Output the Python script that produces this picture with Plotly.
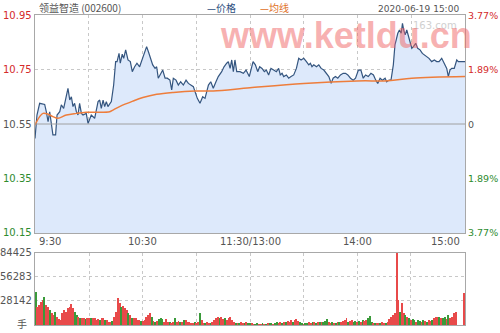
import plotly.graph_objects as go

# ---------------- data ----------------
price_t = [0,1.1,2.6,5.4,6.3,7.3,8.2,9.1,10,11.5,12.3,13.8,14.7,16,17.5,18.4,19.4,20.3,21.2,22.1,23.1,24,24.9,25.9,26.8,28.6,29.6,31.4,33.3,35.2,36.1,37,38,38.9,39.8,40.7,42.6,43.9,45,45.8,46.9,47.6,48.7,49.5,50.6,51.9,53.2,54.3,55.6,56.9,58.4,
           60.5,62.3,63.3,64.6,65.7,67,67.9,68.8,70.1,71.3,72.6,73.8,75.3,76.3,77.2,78.7,80,81.3,82.8,84.3,85.6,86.9,88.4,89.3,90.6,92.1,93.6,94.9,96.8,98.1,99.5,101,102.3,104.2,105.5,107,107.9,108.9,109.8,110.7,111.6,112.6,114.4,116.3,117.8,119.6,
           120.2,121.7,123,124.3,125.4,126.7,128,129.1,130.4,131.7,133.2,134.7,136,136.9,137.9,138.8,140.3,141.6,142.9,144.4,145.9,147.2,148.5,150,151.5,152.8,153.7,154.6,155.6,157.1,158.4,159.7,161.2,162.7,164,165.3,166.4,167.7,169,170.5,172,173.3,174.6,176.1,177.6,178.9,
           180.5,181.9,183.2,184.5,186,187.5,188.9,190.2,191.3,192.6,193.9,195.4,196.3,197.6,198.7,200,200.9,202.5,203.4,204.4,205.1,205.8,206.6,207.5,208.5,209.4,210.3,211.2,212.5,213.6,214.9,216.2,217.3,218.6,219.9,221.4,222.9,224.2,225.5,227,228.5,229.8,230.7,231.6,232.6,234,235.4,236.3,237.8,240]
price_v = [10.497,10.583,10.626,10.622,10.595,10.559,10.595,10.559,10.510,10.510,10.583,10.595,10.620,10.607,10.656,10.681,10.638,10.650,10.614,10.626,10.595,10.583,10.626,10.589,10.583,10.589,10.552,10.583,10.571,10.632,10.638,10.607,10.638,10.614,10.632,10.614,10.632,10.693,10.779,10.779,10.809,10.773,10.806,10.791,10.822,10.785,10.779,10.742,10.760,10.773,10.760,
           10.803,10.834,10.815,10.791,10.767,10.754,10.760,10.718,10.736,10.748,10.718,10.718,10.711,10.675,10.718,10.711,10.693,10.705,10.693,10.711,10.699,10.693,10.687,10.669,10.644,10.626,10.650,10.644,10.693,10.705,10.681,10.705,10.724,10.742,10.760,10.773,10.779,10.754,10.785,10.742,10.785,10.742,10.742,10.736,10.748,10.724,
           10.742,10.779,10.767,10.742,10.760,10.754,10.742,10.748,10.730,10.754,10.748,10.742,10.754,10.730,10.736,10.724,10.730,10.718,10.724,10.730,10.754,10.791,10.785,10.791,10.779,10.767,10.773,10.760,10.767,10.760,10.767,10.754,10.748,10.736,10.724,10.699,10.718,10.724,10.718,10.730,10.736,10.736,10.730,10.718,10.711,10.718,
           10.748,10.748,10.718,10.730,10.724,10.736,10.730,10.711,10.699,10.718,10.711,10.718,10.705,10.711,10.711,10.767,10.840,10.883,10.895,10.883,10.919,10.895,10.877,10.895,10.870,10.840,10.828,10.834,10.846,10.828,10.822,10.809,10.803,10.797,10.791,10.779,10.785,10.779,10.779,10.791,10.773,10.754,10.724,10.748,10.754,10.754,10.785,10.779,10.779,10.779]

avg_t = [0,2.6,4.5,7.3,10,12.8,17.5,23.1,28.6,41.7,43.5,47.2,54.6,60.2,67.9,77.2,89.3,99.5,120,150,179.7,197.2,210.3,240]
avg_v = [10.546,10.577,10.589,10.586,10.577,10.571,10.583,10.589,10.593,10.595,10.601,10.614,10.634,10.647,10.659,10.666,10.671,10.671,10.683,10.699,10.708,10.709,10.718,10.724]

volume = ([39000,21500,23500,27400,29300,33000,23500,21500,17600,13700,
           11700,15600,9800,7000,5900,13700,17600,15600,19500,21500,
           24200,19500,15600,11700,9800,8600,8600,7800,7000,7800,
           8200,8600,8600,7800,5900,7000,5900,7800,8600,5900,
           5900,3900,3900,4700,9800,15600,31300,25400,21500,22700,
           20300,17600,13700,11700,8600,8600,7800,5900,5900,4700,
           4700,5900,9800,11700,13700,9800,4700,3900,4700,7000,
           8600,7000,3100,7000,3100,3100,2300,3100,8600,3900,
           4700,3900,3100,5900,5900,3900,3100,2000,2300,3100,
           2300,3900,13700,5900,2300,2000,3100,2300,2700,3900,
           5900,8600,9800,7800,9800,7000,8600,6200,7800,9800,
           5900,3100,2700,2000,2300,3100,2000,2700,3100,2300,
           2000]
          + [2300,1600,1600,2000,1200,1600,2300,1600,1200,2000,2300,2700,1600,2700,3100,2700,3500,2700,3900,3100,4700,3500,5900,3900,5500]
          + [7000,4700,3100,2300,1600,2000,2700,3100,2700,3500,3100,2700,3500,3900,3100,3500,4700,7000,3900,2700,
             3100,2300,2700,3100,3900,3500,4700,5900,7800,3100,4700,5500,3900,4700,3900,4300,3500,5500,4300,5900,
             7800,10500,3900,2700,2300,2000,2700,2300,3100,2700]
          + [2700,3900,7000,9800,11700,13700,84425,29300,15600,25400,13700,11700,9800,7800,5900,7000,5500,3900,5500,4700,
             3900,5500,4700,3900,5500,4700,5900,7800,9800,9800,9400,8600,7800,9800,7000,11700,7800,9800,13700,15600,
             0,0,0,0,37100])
vol_dir = ("duuuuduudu" "uduuuuuuuu" "uudduduudu" "uduuuuduud" "uuuduuuudu"
           "uududuuuud" "uuuuududud" "dduuuduudu" "ududuuuuud" "uuduuduudu"
           "uuuduuduuu" "uududuudud" "duudduudud" "uddudduudu" "duuuduuudd"
           "udduududud" "uddduududu" "duuuuduudd" "ududuudddu" "duuduuduuu"
           "uuuuduudud" "udduddudud" "uuduuududd" "uduuuuuuuu" "u")
minute_idx = list(range(len(volume)))

x_tick_pos = [0, 60, 120, 180, 240]
x_tick_text = ["9:30", "10:30", "11:30/13:00", "14:00", "15:00"]
y_ticks = [10.95, 10.75, 10.55, 10.35, 10.15]
y_tick_text = ["10.95", "10.75", "10.55", "10.35", "10.15"]
pct_text = ["3.77%", "1.89%", "0", "1.89%", "3.77%"]
vol_ticks = [84425, 56283, 28142]
vol_tick_text = ["84425", "56283", "28142"]

RED = "#d42a2a"
GREEN = "#2e8b2e"
GRAY = "#555555"
tick_colors = [RED, RED, GRAY, GREEN, GREEN]

FONT = "DejaVu Sans"
CJK = "Noto Sans CJK SC"

fig = go.Figure()
fig.add_trace(go.Scatter(x=price_t, y=price_v, mode="lines", fill="tozeroy",
                         fillcolor="rgb(221,233,251)",
                         line=dict(color="#34557f", width=1.2),
                         xaxis="x", yaxis="y", hoverinfo="skip"))
fig.add_trace(go.Scatter(x=avg_t, y=avg_v, mode="lines", line=dict(color="#ee7d3b", width=1.5, shape="spline"),
                         xaxis="x", yaxis="y", hoverinfo="skip"))
bar_colors = [("#e84a4a" if d == "u" else "#3a9a3a") for d in vol_dir]
fig.add_trace(go.Bar(x=minute_idx, y=volume, marker=dict(color=bar_colors, line=dict(width=0)),
                     width=0.55, xaxis="x2", yaxis="y2", hoverinfo="skip"))

grid_x = [30, 60, 90, 120, 150, 180, 210]
common_x = dict(range=[0, 240], showline=True, mirror=True, linecolor="#a8a8a8", linewidth=1,
                tickvals=grid_x, showticklabels=False, ticks="", showgrid=True,
                gridcolor="#c8c8c8", griddash="dot", gridwidth=1, zeroline=False, fixedrange=True)

fig.update_layout(
    width=500, height=333,
    margin=dict(l=35, r=35, t=15, b=8),
    paper_bgcolor="white", plot_bgcolor="white",
    showlegend=False, bargap=0,
    xaxis=dict(domain=[0, 1], anchor="y", **common_x),
    xaxis2=dict(domain=[0, 1], anchor="y2", **{**common_x, "range": [-0.3, 240.3]}),
    yaxis=dict(domain=[0.2968, 1], range=[10.15, 10.95], tickvals=[10.35, 10.75],
               showticklabels=False, ticks="", showgrid=True, gridcolor="#c8c8c8", griddash="dot",
               showline=True, mirror=True, linecolor="#a8a8a8", zeroline=False),
    yaxis2=dict(domain=[0, 0.2323], range=[0, 84425], tickvals=[28142, 56283],
                showticklabels=False, ticks="", showgrid=True, gridcolor="#c8c8c8", griddash="dot",
                showline=True, mirror=True, linecolor="#a8a8a8", zeroline=False),
)

# prev close line
fig.add_shape(type="line", xref="x domain", yref="y", x0=0, x1=1, y0=10.55, y1=10.55,
              line=dict(color="#a0a0a0", width=1))

ann = []
for v, t, c in zip(y_ticks, y_tick_text, tick_colors):
    ann.append(dict(xref="paper", yref="y", x=0, y=v, text=t, xanchor="right", yanchor="middle",
                    xshift=-1, showarrow=False, font=dict(family=FONT, size=10, color=c)))
for v, t, c in zip(y_ticks, pct_text, tick_colors):
    ann.append(dict(xref="paper", yref="y", x=1, y=v, text=t, xanchor="left", yanchor="middle",
                    xshift=1, showarrow=False, font=dict(family=FONT, size=9.5, color=c)))
for v, t in zip(vol_ticks, vol_tick_text):
    ann.append(dict(xref="paper", yref="y2", x=0, y=v, text=t, xanchor="right", yanchor="middle",
                    xshift=-1, showarrow=False, font=dict(family=FONT, size=10, color=GRAY)))
ann.append(dict(xref="paper", yref="y2", x=0, y=0, text="手", xanchor="right", yanchor="middle",
                xshift=-6, yshift=1, showarrow=False, font=dict(family=CJK, size=10, color=GRAY)))
anchors = ["left", "center", "center", "center", "right"]
shifts = [2, 0, 0, 0, -3]
for p, t, a, s in zip(x_tick_pos, x_tick_text, anchors, shifts):
    ann.append(dict(xref="x", yref="paper", x=p, y=0.2968, text=t, xanchor=a, yanchor="top",
                    xshift=s, yshift=-1, showarrow=False, font=dict(family=FONT, size=10, color=GRAY)))
# header
ann.append(dict(xref="paper", yref="paper", x=0, y=1, text="领益智造 (002600)", xanchor="left", yanchor="bottom",
                xshift=2, yshift=-2, showarrow=False, font=dict(family=CJK, size=10, color=GRAY)))
ann.append(dict(xref="paper", yref="paper", x=0.395, y=1, text="—价格", xanchor="left", yanchor="bottom",
                yshift=-2, showarrow=False, font=dict(family=CJK, size=10, color="#2f4f80")))
ann.append(dict(xref="paper", yref="paper", x=0.518, y=1, text="—均线", xanchor="left", yanchor="bottom",
                yshift=-2, showarrow=False, font=dict(family=CJK, size=10, color="#e0701e")))
ann.append(dict(xref="paper", yref="paper", x=1, y=1, text="2020-06-19 15:00", xanchor="right", yanchor="bottom",
                xshift=-4, yshift=-1, showarrow=False, font=dict(family=FONT, size=9, color=GRAY)))
ann.append(dict(xref="paper", yref="paper", x=1, y=1, text="163.com", xanchor="right", yanchor="top",
                xshift=-6, yshift=-3, showarrow=False, font=dict(family=FONT, size=10, color="#d0d0d0")))
# watermark
ann.append(dict(xref="paper", yref="paper", x=1.02, y=0.935, text="<b>www.ketldu.cn</b>", xanchor="right",
                yanchor="middle", showarrow=False,
                font=dict(family="Liberation Sans", size=36, color="rgba(240,100,100,0.5)")))
fig.update_layout(annotations=ann)

fig.write_html("out.html")
